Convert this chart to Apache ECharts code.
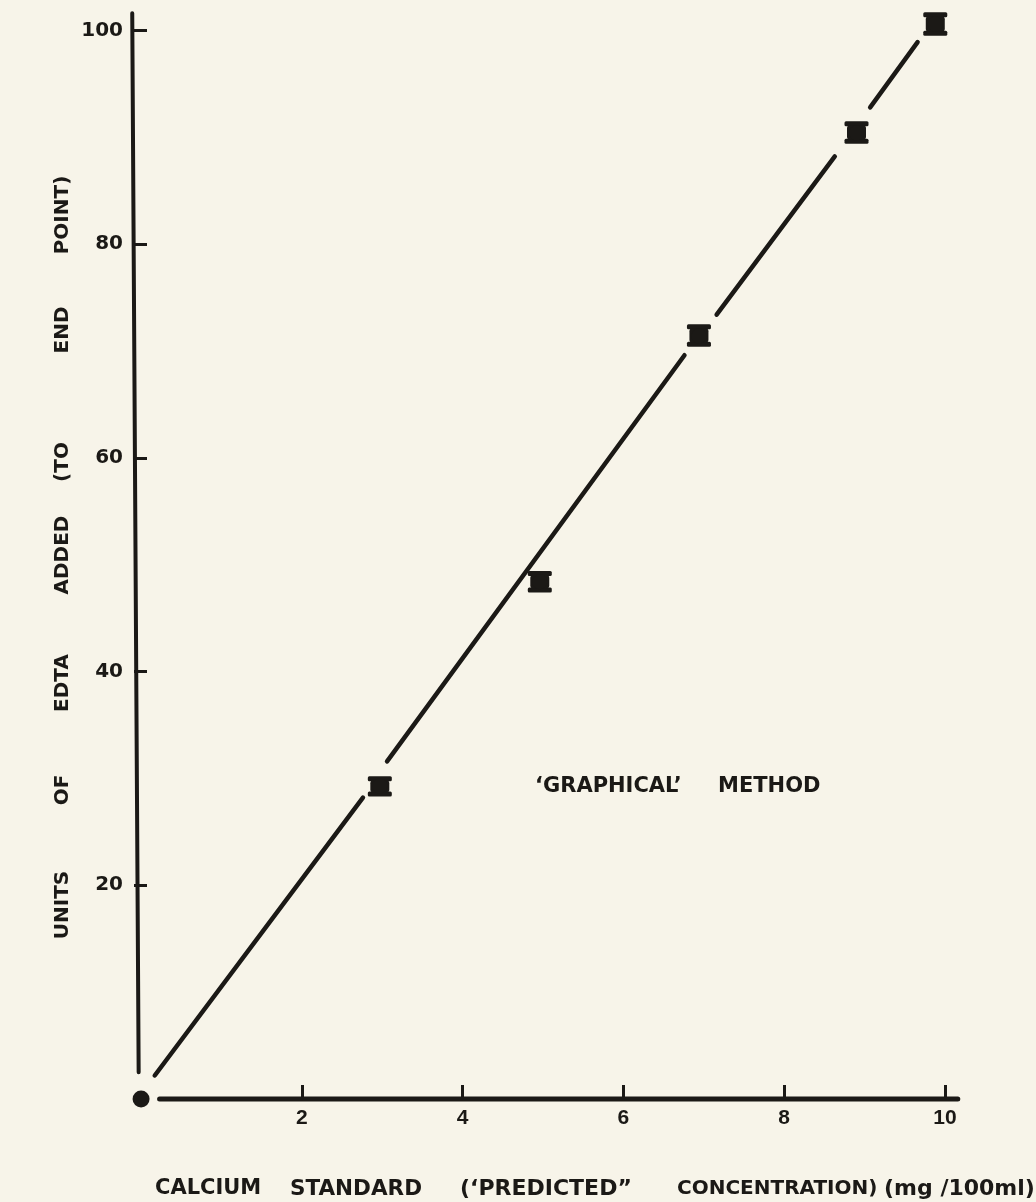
<!DOCTYPE html>
<html><head><meta charset="utf-8">
<script src="https://cdn.jsdelivr.net/npm/echarts@6/dist/echarts.min.js"></script>
<style>html,body{margin:0;padding:0;background:#f7f4e9}#c{width:1036px;height:1202px}</style>
</head><body><div id="c"></div>
<script>
// ---- data ----
const concentration = [2.97, 4.96, 6.94, 8.90, 9.88];      // mg/100ml
const edtaUnits     = [29.3, 48.4, 71.4, 90.4, 100.6];     // mean units of EDTA
const edtaUpper     = [30.2, 49.4, 72.5, 91.5, 101.7];     // upper error
const edtaLower     = [28.3, 47.4, 70.4, 89.4, 99.5];      // lower error
const originPoint   = [[0, 0]];
// fitted line, drawn in pieces (gaps around the data points)
const fitSegments = [
  [[0.17, 2.2], [2.76, 28.2]],
  [[3.06, 31.6], [6.76, 69.6]],
  [[7.16, 73.4], [8.63, 88.2]],
  [[9.07, 92.8], [9.66, 98.9]]
];
const xTicks = [2, 4, 6, 8, 10];
const yTicks = [20, 40, 60, 80, 100];
const xAxisLine = [[0.23, 0], [10.16, 0]];
const yAxisLine = [[-0.11, 101.6], [-0.03, 2.5]];
const xTitleWords = ['CALCIUM', 'STANDARD', '(\u2018PREDICTED\u201D', 'CONCENTRATION)', '(mg /100ml)'];
const yTitleWords = ['UNITS', 'OF', 'EDTA', 'ADDED', '(TO', 'END', 'POINT)'];
const annotationWords = ['\u2018GRAPHICAL\u2019', 'METHOD'];

const ink = '#1b1916';
const chart = echarts.init(document.getElementById('c'), null, {renderer: 'canvas'});

const xTitleX = [155, 290, 460, 677, 884];
const xTitleSize = [21, 21.5, 22, 20, 22];
const yTitleY = [905, 790, 683, 555, 462, 330, 215];
const annX = [535, 718];

const graphic = [];
xTitleWords.forEach((w, i) => graphic.push({
  type: 'text', x: xTitleX[i], y: 1189,
  style: {text: w, font: 'bold ' + xTitleSize[i] + 'px "DejaVu Sans"', fill: ink, textAlign: 'left', textVerticalAlign: 'middle'}
}));
yTitleWords.forEach((w, i) => graphic.push({
  type: 'text', x: 63, y: yTitleY[i], rotation: Math.PI / 2,
  style: {text: w, font: 'bold 20px "DejaVu Sans"', fill: ink, textAlign: 'center', textVerticalAlign: 'middle'}
}));
annotationWords.forEach((w, i) => graphic.push({
  type: 'text', x: annX[i], y: 787,
  style: {text: w, font: 'bold 21px "DejaVu Sans"', fill: ink, textAlign: 'left', textVerticalAlign: 'middle'}
}));

const series = [];
fitSegments.forEach(seg => series.push({
  type: 'line', data: seg, symbol: 'none', silent: true, clip: false,
  lineStyle: {color: ink, width: 4.5, cap: 'round'}
}));
series.push({type: 'line', data: xAxisLine, symbol: 'none', clip: false, silent: true,
  lineStyle: {color: ink, width: 5, cap: 'round'}});
series.push({type: 'line', data: yAxisLine, symbol: 'none', clip: false, silent: true,
  lineStyle: {color: ink, width: 4, cap: 'round'}});
series.push({type: 'scatter', data: originPoint, symbol: 'circle', symbolSize: 17, clip: false,
  itemStyle: {color: ink, opacity: 1}});
series.push({
  type: 'custom', clip: false,
  data: concentration.map((x, i) => [x, edtaLower[i], edtaUpper[i], edtaUnits[i]]),
  renderItem(params, api) {
    const x = api.value(0);
    const lo = api.coord([x, api.value(1)]);
    const hi = api.coord([x, api.value(2)]);
    const capW = 24, capH = 5, bodyW = 19;
    return {type: 'group', children: [
      {type: 'rect', shape: {x: hi[0] - capW / 2, y: hi[1], width: capW, height: capH, r: 1.5}, style: {fill: ink}},
      {type: 'rect', shape: {x: lo[0] - capW / 2, y: lo[1] - capH, width: capW, height: capH, r: 1.5}, style: {fill: ink}},
      {type: 'rect', shape: {x: hi[0] - bodyW / 2, y: hi[1] + capH - 1, width: bodyW, height: lo[1] - hi[1] - 2 * capH + 2, r: 3}, style: {fill: ink}}
    ]};
  }
});
series.push({type: 'scatter', data: concentration.map((x, i) => [x, edtaUnits[i]]),
  symbol: 'circle', symbolSize: 15, itemStyle: {color: ink, opacity: 1}});

chart.setOption({
  backgroundColor: '#f7f4e9',
  animation: false,
  grid: {left: 125, right: 75, top: 9, bottom: 103},
  xAxis: {
    type: 'value', min: -0.2, max: 10.2,
    axisLine: {show: false, onZero: false}, splitLine: {show: false},
    axisTick: {show: true, inside: true, length: 14, customValues: xTicks, lineStyle: {color: ink, width: 3}},
    axisLabel: {customValues: xTicks, margin: 9, color: ink, fontFamily: 'Liberation Sans', fontWeight: 'bold', fontSize: 21}
  },
  yAxis: {
    type: 'value', min: 0, max: 102, offset: -9,
    axisLine: {show: false, onZero: false}, splitLine: {show: false},
    axisTick: {show: true, inside: true, length: 13, customValues: yTicks, lineStyle: {color: ink, width: 3}},
    axisLabel: {customValues: yTicks, margin: 11, color: ink, fontFamily: 'DejaVu Sans', fontWeight: 'bold', fontSize: 20}
  },
  graphic: graphic,
  series: series
});
</script></body></html>
